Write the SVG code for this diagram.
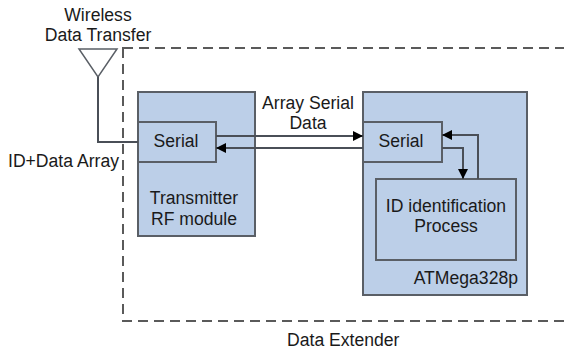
<svg xmlns="http://www.w3.org/2000/svg" width="564" height="352" viewBox="0 0 564 352">
<defs>
<style>
.box{fill:#bccfe8;stroke:#5a5f66;stroke-width:2}
.ln{fill:none;stroke:#4a4f57;stroke-width:2}
.t{font-family:"Liberation Sans",Arial,sans-serif;font-size:17.6px;fill:#1a1a1a}
.m{text-anchor:middle}
</style>
<marker id="ah" viewBox="0 0 10 10" refX="10" refY="5" markerWidth="10" markerHeight="10" markerUnits="userSpaceOnUse" orient="auto">
<path d="M0,0 L10,5 L0,10 Z" fill="#000"/>
</marker>
</defs>
<rect width="564" height="352" fill="#fff"/>
<g id="extender">
<rect x="123" y="48" width="460" height="273" fill="none" stroke="#5a5a5a" stroke-width="2" stroke-dasharray="10,6"/>
<text class="t" x="287" y="346">Data Extender</text>
</g>
<g id="antenna">
<polygon points="79,49 117,49 98,77" fill="#fff" stroke="#5a5f66" stroke-width="1.5"/>
<text class="t m" x="98" y="21">Wireless</text>
<text class="t m" x="98" y="41">Data Transfer</text>
</g>
<g id="transmitter">
<rect class="box" x="138" y="92" width="117" height="144"/>
<text class="t m" x="194" y="204">Transmitter</text>
<text class="t m" x="194" y="225">RF module</text>
</g>
<g id="serial1">
<rect class="box" x="138" y="122" width="78" height="40"/>
<text class="t m" x="176" y="147">Serial</text>
</g>
<g id="atmega">
<rect class="box" x="363" y="92" width="164" height="203"/>
<text class="t" x="518" y="284" text-anchor="end">ATMega328p</text>
</g>
<g id="serial2">
<rect class="box" x="363" y="122" width="79" height="40"/>
<text class="t m" x="401" y="147">Serial</text>
</g>
<g id="idproc">
<rect class="box" x="376" y="179" width="140" height="81"/>
<text class="t m" x="446" y="212">ID identification</text>
<text class="t m" x="446" y="232">Process</text>
</g>
<g id="connectors">
<polyline class="ln" points="98,77 98,142 138,142"/>
<line class="ln" x1="216" y1="136" x2="363" y2="136" marker-end="url(#ah)"/>
<line class="ln" x1="363" y1="148" x2="216" y2="148" marker-end="url(#ah)"/>
<polyline class="ln" points="442,148 463,148 463,179" marker-end="url(#ah)"/>
<polyline class="ln" points="478,179 478,135 442,135" marker-end="url(#ah)"/>
<text class="t m" x="308" y="109">Array Serial</text>
<text class="t m" x="308" y="129">Data</text>
<text class="t" x="8" y="167">ID+Data Array</text>
</g>
</svg>
